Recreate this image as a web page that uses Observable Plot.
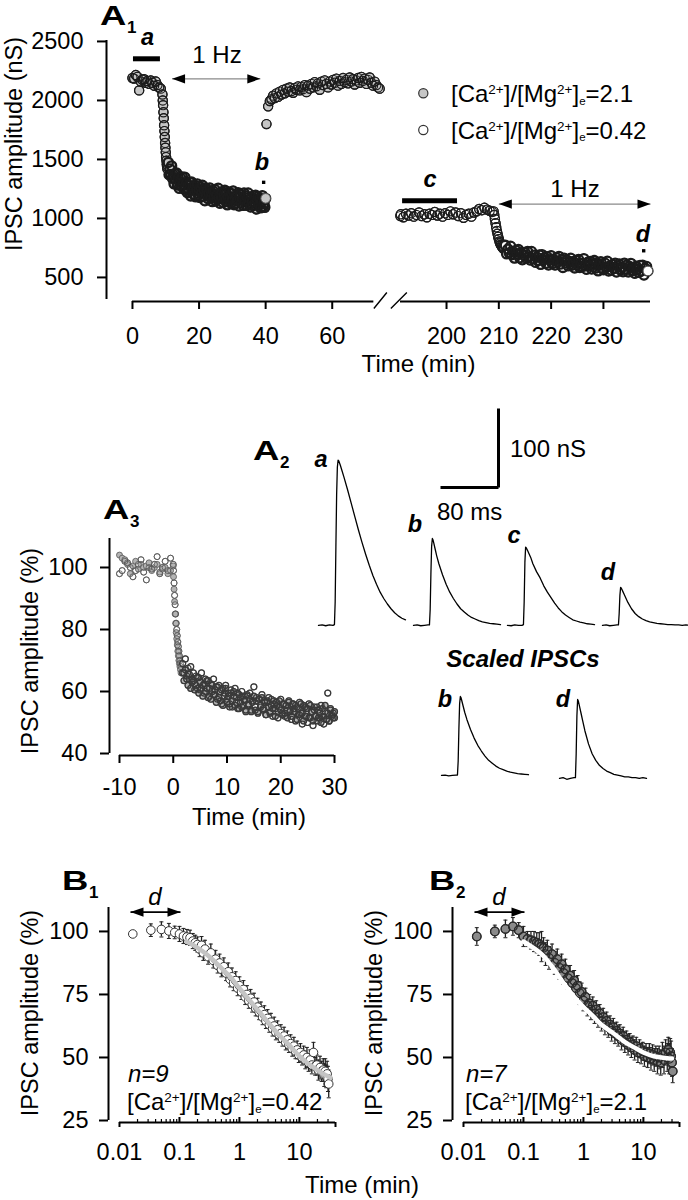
<!DOCTYPE html>
<html>
<head>
<meta charset="utf-8">
<script src="https://cdn.jsdelivr.net/npm/d3@7"></script>
<script src="https://cdn.jsdelivr.net/npm/@observablehq/plot@0.6"></script>
<style>
  html, body { margin: 0; padding: 0; background: #fff; }
  #root { position: relative; width: 688px; height: 1200px; overflow: hidden; background: #fff; }
</style>
</head>
<body>
<div id="root"></div>
<script>
// ================= DATA =================
// ---- Panel A1: IPSC amplitude (nS) vs time (min) ----
// sampling: [first time (min), interval (min)]
const a1Sampling = {
  greyBase: [0, 0.5], greyDrop: [9.0, 0.1], greyTrain: [10.75, 0.25], greyRecovery: [40.25, 0.5],
  whiteBase: [190.75, 0.5], whiteDrop: [209.0, 0.125], whiteTrain: [211.25, 0.25]
};
const a1GreyBase = [2190, 2185, 2215, 2200, 2085, 2160, 2175, 2180, 2150, 2165, 2140, 2170, 2150, 2125, 2160, 2130, 2110, 2100];
const a1GreyDrop = [2050, 2000, 1960, 1900, 1850, 1790, 1740, 1690, 1640, 1600, 1560, 1520, 1490, 1460, 1440, 1420];
const a1GreyTrain = [
  1475, 1370, 1420, 1370, 1445, 1340, 1370, 1293, 1380, 1332, 1385, 1283, 1342, 1256, 1310, 1340,
  1275, 1351, 1287, 1248, 1349, 1260, 1302, 1219, 1280, 1237, 1304, 1191, 1308, 1240, 1272, 1204,
  1281, 1183, 1245, 1292, 1199, 1246, 1178, 1265, 1213, 1281, 1189, 1242, 1150, 1258, 1206, 1239,
  1167, 1215, 1258, 1176, 1219, 1143, 1232, 1181, 1245, 1149, 1198, 1162, 1256, 1170, 1129, 1213,
  1177, 1226, 1135, 1199, 1238, 1147, 1211, 1115, 1184, 1223, 1152, 1131, 1210, 1159, 1233, 1117,
  1181, 1130, 1194, 1148, 1217, 1106, 1180, 1204, 1133, 1167, 1111, 1215, 1144, 1193, 1112, 1176,
  1215, 1129, 1163, 1097, 1181, 1145, 1109, 1193, 1127, 1196, 1080, 1159, 1183, 1112, 1166, 1090,
  1144, 1193, 1102, 1126, 1094, 1170
];
const a1GreyRecovery = [
  1800, 1950, 1995, 2010, 2040, 2020, 2060, 2030, 2075, 2050, 2090, 2060, 2100, 2075, 2110, 2080,
  2065, 2105, 2090, 2120, 2085, 2115, 2095, 2130, 2070, 2125, 2100, 2140, 2110, 2155, 2120, 2145,
  2090, 2160, 2130, 2170, 2140, 2110, 2160, 2135, 2175, 2150, 2185, 2125, 2165, 2140, 2190, 2155,
  2175, 2145, 2195, 2160, 2180, 2135, 2170, 2190, 2150, 2200, 2165, 2185, 2140, 2175, 2195, 2150,
  2125, 2160, 2130, 2110, 2100
];
const a1WhiteBase = [
  1020, 1035, 1010, 1040, 1025, 1045, 1015, 1030, 1050, 1020, 1035, 1010, 1040, 1030, 1055, 1025,
  1040, 1015, 1045, 1030, 1060, 1035, 1050, 1020, 1045, 1005, 1030, 1040, 1015, 1050, 1060, 1080,
  1070, 1090, 1075, 1065, 1055
];
const a1WhiteDrop = [1060, 1030, 995, 960, 925, 895, 870, 845, 825, 805, 790, 778, 768, 760, 752, 745, 740];
const a1WhiteTrain = [
  772, 700, 740, 708, 764, 693, 718, 664, 728, 697, 736, 666, 709, 650, 689, 711,
  665, 719, 674, 648, 720, 658, 688, 629, 673, 643, 690, 611, 693, 646, 668, 620,
  675, 606, 650, 684, 619, 652, 605, 667, 631, 678, 613, 650, 585, 662, 624, 648,
  598, 631, 662, 604, 635, 581, 644, 608, 652, 584, 619, 593, 659, 598, 569, 628,
  602, 636, 572, 616, 644, 579, 624, 556, 605, 632, 581, 566, 622, 586, 637, 555,
  596, 564, 609, 576, 620, 546, 597, 614, 564, 588, 548, 621, 571, 605, 547, 592,
  619, 558, 582, 535, 594, 568, 543, 602, 555, 603, 521, 576, 593, 555
];
const a1YTicks = [500, 1000, 1500, 2000, 2500];
const a1XTicks = [0, 20, 40, 60, 200, 210, 220, 230];
const a1AxisSegments = [{from: 0, to: 72.5}, {from: 191.2, to: 239}];
const a1AxisBreakAt = [72.5];
const a1Bars = [{label: "a", from: 0.3, to: 8.4, y: 2353}, {label: "c", from: 191.6, to: 202.1, y: 1150}];
const a1Arrows = [{from: 11.9, to: 38.4, y: 2183}, {from: 210.0, to: 239, y: 1122}];
const a1Samples = [{label: "b", t: 39.4, v: 1306}, {label: "d", t: 237.7, v: 726}];
const a1Legend = ["2.1", "0.42"];

// ---- Panel A2: IPSC traces (ms, nS) ----
const traceTimeMs = [0, 5, 10, 15, 20, 22, 23, 24, 25, 26, 27, 28, 30, 32, 35, 40, 45, 50, 55, 60, 65, 70, 75, 80, 85, 90, 95, 100, 105, 110, 115, 120];
const traceA = [0, 0.5, -0.5, 0.5, 0, 1, 30, 100, 165, 200, 209, 208, 203, 197, 188, 172, 155, 138, 121, 105, 90, 76, 63, 52, 42, 34, 27, 21, 16, 12, 9, 7];
const traceB = [0, 0.5, -0.5, 0, 0.5, 0.5, 20, 65, 100, 110, 108, 104, 96, 88, 78, 64, 52, 42, 34, 27, 21, 17, 13, 10, 8, 6, 4.5, 3.5, 2.5, 2, 1.5, 1];
const traceC = [0, -0.5, 0.5, 0, 0, 1, 30, 80, 99, 98, 96, 94, 90, 86, 78, 68, 60, 50, 42, 35, 28, 22, 17, 13, 10, 7, 5.5, 4, 3, 2, 1.5, 1];
const traceD = [0, 0.5, -0.5, 0, 0.5, 0.5, 15, 38, 48, 47, 45, 43, 39, 35, 29, 21, 15, 11, 8, 6, 4.5, 3.5, 2.5, 2, 1.5, 1, 1, 0.5, 0.5, 0, 0.5, 0];
const scaleBar = {ms: 80, nS: 100};

// ---- Panel A3: normalised IPSC amplitude (%) vs time (min) ----
const a3Sampling = {base: [-10, 0.5], drop: [0.05, 0.1], train: [1.75, 0.25]};
const a3GreyBase = [104, 103, 102.5, 101, 98, 100.5, 102, 99.5, 101, 100, 100.5, 101.5, 99, 100, 101, 98.5, 99.5, 100, 98, 99, 100.5];
const a3WhiteBase = [98, 99, 102, 101.5, 100, 97, 99, 101, 102.5, 98.5, 96, 100, 99.5, 101, 103.5, 98, 100, 102, 99, 103, 101];
const a3GreyDrop = [97, 93, 89, 85, 82, 79, 77, 75, 73, 71.5, 70, 69, 68, 67, 66];
const a3WhiteDrop = [99, 95, 91, 88, 85, 82, 80, 78, 76, 74.5, 73, 71.5, 70, 69, 68];
const a3GreyTrain = [
  66, 63.5, 67, 64, 62, 65.5, 61, 64, 63.5, 60.5, 62, 64.5, 59.5, 63, 61, 58.5,
  62.5, 60, 63.5, 58, 61, 57.5, 62, 59, 60.5, 56.5, 61.5, 58, 57, 60.5, 55.5, 59.5,
  61, 56.5, 58.5, 55, 59.5, 57, 60, 55.5, 58, 54.5, 59, 56.5, 55, 58.5, 57, 54,
  59, 55.5, 57.5, 53.5, 56.5, 58.5, 54, 57, 53.5, 57.5, 55, 58, 54.5, 56.5, 52.5, 57,
  55, 53, 57.5, 54.5, 56, 52, 55.5, 53.5, 57, 54, 52.5, 56, 53, 55.5, 51.5, 56.5,
  54, 52, 56, 53.5, 55.5, 51, 54.5, 52.5, 56, 53, 50.5, 55, 52, 54.5, 51.5, 55.5,
  53.5, 50.5, 54, 52, 55, 51.5, 53, 50, 54.5, 52, 55.5, 51, 53, 50.5, 54, 52.5,
  51.5, 53.5
];
const a3WhiteTrain = [
  69, 66, 70.5, 65, 67.5, 64, 68, 63, 66, 62.5, 65, 61, 64.5, 60.5, 66, 62,
  59.5, 64, 61, 63.5, 58.5, 62.5, 60, 64, 59, 61.5, 57.5, 62, 60, 56, 61, 58.5,
  62, 57.5, 59.5, 56, 60.5, 55, 58.5, 61, 56.5, 59.5, 54.5, 58, 60, 55.5, 57.5, 53.5,
  58.5, 56, 59.5, 54, 57, 61.5, 55, 58, 53, 57.5, 55.5, 59, 54, 57, 52.5, 56.5,
  58, 53.5, 55.5, 52, 57, 54.5, 56.5, 51.5, 55, 57.5, 53, 56, 52, 55.5, 54, 57,
  53.5, 51, 56, 54.5, 50.5, 55, 52.5, 56.5, 53, 49.5, 55.5, 52, 54.5, 50, 56, 51.5,
  53.5, 49, 55, 52, 50.5, 54, 51.5, 55.5, 52, 49.5, 53.5, 51, 59.5, 50.5, 54.5, 52,
  53, 51.5
];
const a3XTicks = [-10, 0, 10, 20, 30];
const a3YTicks = [40, 60, 80, 100];

// ---- Panels B1 / B2: normalised amplitude (%) vs log time ----
const bTimeSec = [1, 2, 3, 4, 5, 6, 7, 8, 9, 10, 11, 12, 13, 14, 15, 16, 18, 20, 22, 24, 26, 28, 30, 33, 36, 39, 42, 45, 48, 52, 56, 60, 65, 70, 75, 80, 86, 92, 98, 105, 112, 120, 128, 137, 146, 156, 166, 177, 189, 201, 214, 228, 243, 259, 276, 294, 313, 333, 355, 378, 402, 428, 456, 486, 517, 550, 586, 624, 664, 707, 753, 802, 854, 909, 968, 1030, 1097, 1168, 1244, 1324, 1410, 1500, 1560, 1620, 1680, 1740, 1800, 1850];
const b1Mean = [
  99, 100.5, 100.8, 100.2, 99.6, 99, 98.2, 97.8, 97.5, 96.2, 95.5, 94.8,
  93, 94.5, 91.5, 93, 90, 91.5, 88.5, 89, 86.5, 87.5, 85, 86, 83.5, 84, 81, 82, 79.5, 80.5,
  77.5, 78.5, 76, 77, 74, 75, 72.5, 73.5, 71, 72, 69.5, 70, 68, 68.5, 66, 67, 64.5, 65.5, 63, 64,
  61.5, 62.5, 60, 61, 59, 59.5, 57.5, 58.5, 56, 57, 55, 55.5, 53.5, 54.5, 52.5, 53, 51, 52, 50, 51,
  49, 50, 48, 49, 47, 52, 46.5, 47, 45, 46, 44.5, 45, 43, 44.5, 42.5, 43.5, 41.5, 39.5
];
const b1Sem = [
  0.5, 2.5, 3, 3, 2.5, 3, 3, 3, 3, 3, 3, 3,
  3, 3.5, 3, 3.5, 3, 3.5, 3, 3.5, 3, 3.5, 3, 3.5, 3, 3.5, 3, 3.5, 3, 3.5,
  3, 3.5, 3, 3.5, 3, 3.5, 3, 3.5, 3, 3.5, 3, 3.5, 3, 3.5, 3, 3.5, 3, 3.5, 3, 3.5,
  3, 3.5, 3, 3.5, 3, 3.5, 3, 3.5, 3, 3.5, 3, 3.5, 3, 3.5, 3, 3.5, 3, 3.5, 3, 3.5,
  3.5, 4, 3.5, 4, 3.5, 4, 3.5, 4, 4, 4.5, 4, 4.5, 4.5, 5, 4.5, 5, 5, 5.5
];
const b2Mean = [
  98, 100, 101, 102, 100.5, 98, 97, 96.5, 96, 95.5, 95, 94,
  93.5, 91, 92.5, 89.5, 91, 87.5, 89, 85.5, 87, 83.5, 85, 81.5, 82.5, 79.5, 80.5, 77.5, 78.5, 75.5,
  76, 72.5, 74, 70.5, 71.5, 69, 70.5, 67.5, 69, 66, 67.5, 64.5, 66, 63, 64.5, 62, 63, 60.5, 62, 59.5,
  60.5, 58.5, 59.5, 57, 58.5, 56, 57, 55, 56, 54, 55, 53, 54.5, 52, 53.5, 51.5, 52.5, 50.5, 52, 50,
  51.5, 49.5, 51, 49, 50.5, 48.5, 50, 48, 51, 49, 52, 50, 53, 49.5, 52, 50.5, 48, 44.5
];
const b2Sem = [
  3.5, 2.5, 3.5, 3.5, 3, 4, 3, 3.5, 4, 4, 4.5, 6,
  4, 4.5, 4, 4.5, 4, 4.5, 4, 4.5, 4, 4.5, 4, 4.5, 4, 4.5, 4, 4.5, 4, 4.5,
  3.5, 4, 3.5, 4, 3.5, 4, 3.5, 4, 3.5, 4, 3.5, 4, 3.5, 4, 3.5, 4, 3.5, 4, 3.5, 4,
  3.5, 4, 3.5, 4, 3.5, 4, 3.5, 4, 3.5, 4, 3.5, 4, 3.5, 4, 3.5, 4, 3.5, 4, 3.5, 4,
  4, 4.5, 4, 4.5, 4, 5, 4.5, 5, 5, 5.5, 5, 5.5, 5, 6, 5.5, 6, 5.5, 4.5
];
const b1FitT = [0.13, 0.2, 0.3, 0.5, 0.7, 1, 1.5, 2, 3, 4, 5, 7, 10, 15, 20, 25, 30, 33];
const b1FitV = [96, 93.5, 90.5, 85.5, 82, 77.5, 72.5, 69, 64, 60.5, 58, 54.5, 50.5, 47, 45, 43.5, 42.5, 42];
const b2FitT = [0.1, 0.2, 0.3, 0.5, 0.7, 1, 1.5, 2, 3, 5, 7, 10, 15, 20, 25, 30];
const b2FitV = [96, 91, 86, 78.5, 74, 70, 66, 63, 60, 56, 54, 52, 50.5, 50, 49.7, 49.6];
const bYTicks = [25, 50, 75, 100];
const bXTicks = [0.01, 0.1, 1, 10];
const bMinorTicks = [0.02, 0.03, 0.04, 0.05, 0.06, 0.07, 0.08, 0.09, 0.2, 0.3, 0.4, 0.5, 0.6, 0.7, 0.8, 0.9, 2, 3, 4, 5, 6, 7, 8, 9, 20, 30];
const bMajorTicks = [0.1, 1, 10];
const bEndTicks = [0.01, 40];
const bArrow = [{from: 0.01525, to: 0.104, y: 107.7}];
const bInfo = [{n: 7, ratio: "2.1"}, {n: 9, ratio: "0.42"}];

// ================= HELPERS =================
const FONT = '"Liberation Sans", Arial, Helvetica, sans-serif';
const root = document.getElementById("root");
const baseStyle = {background: "transparent", fontFamily: FONT, fontSize: "23.5px", overflow: "visible", color: "black"};
const series = ([start, step], vals) => vals.map((v, i) => ({t: start + i * step, v}));
function place(svg, left, top) {
  svg.style.position = "absolute";
  svg.style.left = left + "px";
  svg.style.top = top + "px";
  root.appendChild(svg);
}
// circles drawn in two passes: fills first, then every outline on top (as in the dense original)
function ringDots(data, fill, stroke, r, sw, ringSw = sw) {
  return [
    Plot.dot(data, {x: "t", y: "v", r, fill, stroke, strokeWidth: sw}),
    Plot.dot(data, {x: "t", y: "v", r, fill: "none", stroke, strokeWidth: ringSw})
  ];
}
const arrowRight = {draw(c) { c.moveTo(0, 0); c.lineTo(-13, -4.6); c.lineTo(-13, 4.6); c.closePath(); }};
const arrowLeft = {draw(c) { c.moveTo(0, 0); c.lineTo(13, -4.6); c.lineTo(13, 4.6); c.closePath(); }};
const axisBreak = {draw(c) { c.moveTo(0, 7); c.lineTo(13, -9); c.moveTo(17, 7); c.lineTo(33, -9); }};

// ================= A1 =================
const a1GreyEarly = [...series(a1Sampling.greyBase, a1GreyBase), ...series(a1Sampling.greyDrop, a1GreyDrop)];
const a1GreyStim = series(a1Sampling.greyTrain, a1GreyTrain);
const a1GreyRec = series(a1Sampling.greyRecovery, a1GreyRecovery);
const a1WhiteEarly = [...series(a1Sampling.whiteBase, a1WhiteBase), ...series(a1Sampling.whiteDrop, a1WhiteDrop)];
const a1WhiteStim = series(a1Sampling.whiteTrain, a1WhiteTrain);
const a1XDom = [-7.8, 76, 191.2, 239];
const a1YDom = [313, 2508];
const GREY = "#c6c6c6", INK = "#1c1c1c";
const plotA1 = Plot.plot({
  width: 688, height: 380, marginLeft: 106, marginRight: 38, marginTop: 40, marginBottom: 81,
  style: baseStyle,
  x: {type: "linear", domain: a1XDom, range: [106, 385, 400, 650]},
  y: {domain: a1YDom, range: [299, 40]},
  marks: [
    Plot.ruleX([a1XDom[0]], {y1: a1YDom[0], y2: a1YDom[1], strokeWidth: 2}),
    Plot.axisY({ticks: a1YTicks, tickSize: 9, tickPadding: 14, strokeWidth: 2, tickFormat: d3.format("d"), label: null}),
    Plot.ruleY(a1AxisSegments, {y: a1YDom[0], x1: "from", x2: "to", dy: 2, strokeWidth: 2}),
    Plot.dot(a1AxisBreakAt, {x: d => d, y: a1YDom[0], dy: 2, symbol: axisBreak, stroke: "black", fill: "none", strokeWidth: 1.4}),
    Plot.axisX({ticks: a1XTicks, tickSize: 8, tickPadding: 18, dy: 2, strokeWidth: 2, tickFormat: d => String(d), label: null}),
    ...ringDots(a1GreyEarly, GREY, INK, 4.6, 1.2),
    ...ringDots(a1GreyStim, GREY, INK, 4.6, 1.2, 2.3),
    Plot.dot(a1GreyStim.slice(-1), {x: "t", y: "v", r: 4.8, fill: GREY, stroke: "#555", strokeWidth: 1}),
    ...ringDots(a1GreyRec, GREY, INK, 4.6, 1.1),
    ...ringDots(a1WhiteEarly, "white", INK, 4.6, 1.2),
    ...ringDots(a1WhiteStim, "white", INK, 4.6, 1.2, 2.3),
    Plot.dot(a1WhiteStim.slice(-1), {x: "t", y: "v", r: 4.8, fill: "white", stroke: "#555", strokeWidth: 1}),
    Plot.ruleY(a1Bars, {y: "y", x1: "from", x2: "to", strokeWidth: 5}),
    Plot.link(a1Arrows, {x1: "from", x2: "to", y1: "y", y2: "y", stroke: "#8a8a8a", strokeWidth: 1.3}),
    Plot.dot(a1Arrows, {x: "from", y: "y", symbol: arrowLeft, fill: "black", stroke: "none"}),
    Plot.dot(a1Arrows, {x: "to", y: "y", symbol: arrowRight, fill: "black", stroke: "none"}),
    Plot.dot(a1Samples, {x: "t", y: "v", symbol: "square", r: 1.9, fill: "black", stroke: "none"})
  ]
});
place(plotA1, 0, 0);

// ================= A2 traces =================
const pxPerMs = 0.725, pxPerNs = 0.79;
function tracePlot(values, left0, base0, scaled) {
  const data = traceTimeMs.map((t, i) => ({t, v: values[i]}));
  const peak = d3.max(values);
  const yDom = scaled ? [-0.05 * peak, 1.05 * peak] : [-5, 215];
  const pxY = scaled ? 79 / peak : pxPerNs;
  const w = 120 * pxPerMs, h = (yDom[1] - yDom[0]) * pxY;
  const svg = Plot.plot({
    width: w + 8, height: h + 8, margin: 4, style: baseStyle,
    x: {domain: [0, 120], axis: null}, y: {domain: yDom, axis: null},
    marks: [Plot.line(data, {x: "t", y: "v", stroke: "black", strokeWidth: 1.3})]
  });
  place(svg, left0 - 4, base0 - yDom[1] * pxY - 4);
}
tracePlot(traceA, 318, 625, false);
tracePlot(traceB, 413, 625, false);
tracePlot(traceC, 507, 625, false);
tracePlot(traceD, 602, 625, false);
tracePlot(traceB, 441, 775, true);
tracePlot(traceD, 559, 778, true);
const sbPlot = Plot.plot({
  width: scaleBar.ms * pxPerMs + 8, height: scaleBar.nS * pxPerNs + 8, margin: 4, style: baseStyle,
  x: {domain: [0, scaleBar.ms], axis: null}, y: {domain: [0, scaleBar.nS], axis: null},
  marks: [
    Plot.link([scaleBar], {x1: 0, y1: 0, x2: d => d.ms, y2: 0, strokeWidth: 3, stroke: "black"}),
    Plot.link([scaleBar], {x1: d => d.ms, y1: 0, x2: d => d.ms, y2: d => d.nS, strokeWidth: 3, stroke: "black"})
  ]
});
place(sbPlot, 436, 404);

// ================= A3 =================
const a3XDom = [-11.86, 30], a3YDom = [40, 109.35];
const a3GreyEarly = [...series(a3Sampling.base, a3GreyBase), ...series(a3Sampling.drop, a3GreyDrop)];
const a3WhiteEarly = [...series(a3Sampling.base, a3WhiteBase), ...series(a3Sampling.drop, a3WhiteDrop)];
const a3GreyStim = series(a3Sampling.train, a3GreyTrain);
const a3WhiteStim = series(a3Sampling.train, a3WhiteTrain);
const plotA3 = Plot.plot({
  width: 340, height: 360, marginLeft: 109, marginRight: 6, marginTop: 58, marginBottom: 87,
  style: baseStyle,
  x: {domain: a3XDom}, y: {domain: a3YDom},
  marks: [
    Plot.ruleX([a3XDom[0]], {y1: a3YDom[0], y2: a3YDom[1], strokeWidth: 2}),
    Plot.axisY({ticks: a3YTicks, tickSize: 9, tickPadding: 13, strokeWidth: 2, label: null}),
    Plot.ruleY([a3YDom[0]], {x1: a3XTicks[0], x2: a3XTicks[a3XTicks.length - 1], dy: 2, strokeWidth: 2}),
    Plot.axisX({ticks: a3XTicks, tickSize: 8, tickPadding: 15, dy: 2, strokeWidth: 2, tickFormat: d => String(d), label: null}),
    Plot.dot(a3WhiteEarly, {x: "t", y: "v", r: 3, fill: "white", stroke: "#555", strokeWidth: 0.8}),
    Plot.dot(a3GreyEarly, {x: "t", y: "v", r: 3, fill: "#b4b4b4", stroke: "#555", strokeWidth: 0.8}),
    Plot.dot(a3WhiteStim, {x: "t", y: "v", r: 3, fill: "white", stroke: "#444", strokeWidth: 0.8}),
    Plot.dot(a3GreyStim, {x: "t", y: "v", r: 3, fill: "#b4b4b4", stroke: "#444", strokeWidth: 0.8}),
    Plot.dot(a3WhiteEarly, {x: "t", y: "v", r: 3, fill: "none", stroke: "#555", strokeWidth: 0.8}),
    Plot.dot(a3WhiteStim, {x: "t", y: "v", r: 3, fill: "none", stroke: "#3a3a3a", strokeWidth: 1.2}),
    Plot.dot(a3GreyStim, {x: "t", y: "v", r: 3, fill: "none", stroke: "#3a3a3a", strokeWidth: 1.2})
  ]
});
place(plotA3, 0, 480);

// ================= B1 / B2 =================
const bXDom = [0.006558, 40], bYDom = [25, 109.5];
function bPlot(mean, sem, fitT, fitV, dotFill, fitColor, rings) {
  const data = bTimeSec.map((s, i) => ({t: s / 60, v: mean[i], e: sem[i]}));
  const fit = fitT.map((t, i) => ({t, v: fitV[i]}));
  return Plot.plot({
    width: 344, height: 350, marginLeft: 108, marginRight: 9, marginTop: 57, marginBottom: 80,
    style: baseStyle,
    x: {type: "log", domain: bXDom}, y: {domain: bYDom},
    marks: [
      Plot.ruleX([bXDom[0]], {y1: bYDom[0], y2: bYDom[1], strokeWidth: 2}),
      Plot.axisY({ticks: bYTicks, tickSize: 9, tickPadding: 11, strokeWidth: 2, label: null}),
      Plot.ruleY([bYDom[0]], {x1: bEndTicks[0], x2: bEndTicks[1], dy: 2, strokeWidth: 2}),
      Plot.ruleX(bMinorTicks, {x: d => d, y1: bYDom[0], y2: bYDom[0], insetTop: -3, dy: 2, strokeWidth: 1.2}),
      Plot.ruleX(bMajorTicks, {x: d => d, y1: bYDom[0], y2: bYDom[0], insetTop: -5, dy: 2, strokeWidth: 2}),
      Plot.ruleX(bEndTicks, {x: d => d, y1: bYDom[0], y2: bYDom[0], insetBottom: -5, dy: 2, strokeWidth: 2}),
      Plot.axisX({ticks: bXTicks, tickSize: 0, tickPadding: 21, dy: 2, tickFormat: d3.format("~g"), label: null}),
      Plot.ruleX(data, {x: "t", y1: d => d.v - d.e, y2: d => d.v + d.e, stroke: "#1e1e1e", strokeWidth: 1.3}),
      Plot.link(data, {x1: d => d.t / 1.08, x2: d => d.t * 1.08, y1: d => d.v + d.e, y2: d => d.v + d.e, stroke: "#222", strokeWidth: 1}),
      Plot.link(data, {x1: d => d.t / 1.08, x2: d => d.t * 1.08, y1: d => d.v - d.e, y2: d => d.v - d.e, stroke: "#222", strokeWidth: 1}),
      Plot.dot(data, {x: "t", y: "v", r: 4.3, fill: dotFill, stroke: "#333", strokeWidth: 1}),
      rings ? Plot.dot(data, {x: "t", y: "v", r: 4.3, fill: "none", stroke: "#2a2a2a", strokeWidth: 1.3}) : null,
      Plot.line(fit, {x: "t", y: "v", stroke: fitColor, strokeWidth: 4.5, curve: "catmull-rom"}),
      Plot.link(bArrow, {x1: "from", x2: "to", y1: "y", y2: "y", stroke: "black", strokeWidth: 1.8}),
      Plot.dot(bArrow, {x: "from", y: "y", symbol: arrowLeft, fill: "black", stroke: "none"}),
      Plot.dot(bArrow, {x: "to", y: "y", symbol: arrowRight, fill: "black", stroke: "none"})
    ]
  });
}
place(bPlot(b1Mean, b1Sem, b1FitT, b1FitV, "white", "#c4c4c4", false), 0, 850);
place(bPlot(b2Mean, b2Sem, b2FitT, b2FitV, "#8a8a8a", "white", true), 344, 850);

// ================= TEXT OVERLAY =================
const ov = d3.select(root).append("svg").attr("width", 688).attr("height", 1200)
  .style("position", "absolute").style("left", "0px").style("top", "0px").style("overflow", "visible")
  .attr("font-family", FONT).attr("fill", "black");
function rich(x, y, parts, o = {}) {
  const size = o.size ?? 24;
  const t = ov.append("text").attr("x", x).attr("y", y).attr("font-size", size)
    .attr("text-anchor", o.anchor ?? "start").attr("font-weight", o.weight ?? "normal")
    .attr("font-style", o.style ?? "normal");
  if (o.transform) t.attr("transform", o.transform);
  let shift = 0;
  for (const [s, k] of (typeof parts === "string" ? [[parts]] : parts)) {
    const target = k === "sup" ? -8 : k === "sub" ? 2.5 : 0;
    const ts = t.append("tspan").text(s);
    if (target !== shift) ts.attr("dy", target - shift);
    if (k) ts.attr("font-size", k === "sup" ? 13.5 : 11.5);
    shift = target;
  }
  return t;
}
const cond = v => [["[Ca"], ["2+", "sup"], ["]/[Mg"], ["2+", "sup"], ["]"], ["e", "sub"], ["=" + v]];
function panel(letter, sub, x, y) {
  ov.append("text").attr("transform", `translate(${x},${y}) scale(1.35,1)`)
    .attr("font-size", 27).attr("font-weight", "bold").text(letter);
  ov.append("text").attr("x", x + 27).attr("y", y + 7.5).attr("font-size", 17).attr("font-weight", "bold").text(sub);
}
panel("A", "1", 100, 25);
panel("A", "2", 253, 460);
panel("A", "3", 103, 519);
panel("B", "1", 62, 890);
panel("B", "2", 429, 890);

// axis titles
rich(0, 0, "IPSC amplitude (nS)", {anchor: "middle", size: 23.5, transform: "translate(21.5,144) rotate(-90)"});
rich(0, 0, "IPSC amplitude (%)", {anchor: "middle", size: 23.5, transform: "translate(38,651) rotate(-90)"});
rich(0, 0, "IPSC amplitude (%)", {anchor: "middle", size: 23.5, transform: "translate(38,1013) rotate(-90)"});
rich(0, 0, "IPSC amplitude (%)", {anchor: "middle", size: 23.5, transform: "translate(382,1013) rotate(-90)"});
rich(418.5, 371.5, "Time (min)", {anchor: "middle"});
rich(249, 824.5, "Time (min)", {anchor: "middle"});
rich(362, 1193, "Time (min)", {anchor: "middle"});

// A1 annotations
const bi = {weight: "bold", style: "italic", anchor: "middle", size: 23.5};
rich(147.5, 45, "a", bi);
rich(262, 170, "b", bi);
rich(430, 187, "c", bi);
rich(643, 242, "d", bi);
rich(217, 63, "1 Hz", {anchor: "middle"});
rich(575, 197, "1 Hz", {anchor: "middle"});
ov.append("circle").attr("cx", 423.3).attr("cy", 93.3).attr("r", 4.6).attr("fill", GREY).attr("stroke", "#333").attr("stroke-width", 1.2);
ov.append("circle").attr("cx", 423.3).attr("cy", 130).attr("r", 4.6).attr("fill", "white").attr("stroke", "#333").attr("stroke-width", 1.2);
rich(451, 102, cond(a1Legend[0]));
rich(451, 138.5, cond(a1Legend[1]));

// A2 annotations
rich(321, 467, "a", bi);
rich(415, 532, "b", bi);
rich(514, 543, "c", bi);
rich(608, 580, "d", bi);
rich(445, 707, "b", bi);
rich(563, 707, "d", bi);
rich(510, 457, scaleBar.nS + " nS");
rich(437, 520, scaleBar.ms + " ms");
rich(523, 667, "Scaled IPSCs", {weight: "bold", style: "italic", anchor: "middle", size: 24});

// B annotations
rich(155, 905, "d", {style: "italic", anchor: "middle"});
rich(499, 905, "d", {style: "italic", anchor: "middle"});
rich(128, 1082, "n=" + bInfo[1].n, {style: "italic"});
rich(466, 1082, "n=" + bInfo[0].n, {style: "italic"});
rich(127, 1110, cond(bInfo[1].ratio));
rich(465, 1110, cond(bInfo[0].ratio));
</script>
</body>
</html>
